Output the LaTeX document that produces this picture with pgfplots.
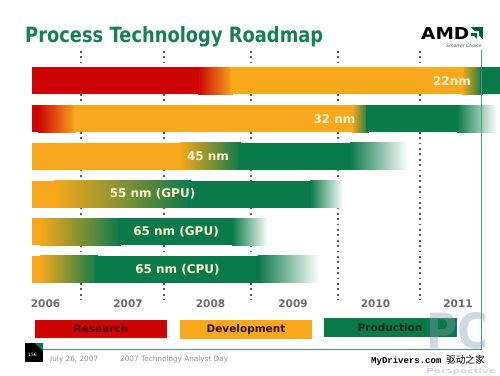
\documentclass[border=0pt]{standalone}
\usepackage{pgfplots}
\pgfplotsset{compat=1.18}
\usepackage{fontspec}
\setmainfont{DejaVu Sans}
\newfontfamily\monofont{Liberation Mono}
\newfontfamily\cjk{Noto Sans CJK SC}
\definecolor{cR}{RGB}{206,4,4}
\definecolor{cO}{RGB}{247,168,28}
\definecolor{cG}{RGB}{10,122,74}
\definecolor{cT}{RGB}{22,128,84}
\definecolor{cTxt}{RGB}{255,244,205}
\definecolor{cFrame}{RGB}{70,155,115}
\definecolor{cWm}{RGB}{130,155,178}
\definecolor{cTick}{RGB}{105,105,105}
% one bar segment: style, x from, x to, y low, y high
\newcommand{\seg}[5]{\addplot[draw=none,#1] coordinates {(#2,#4) (#3,#4) (#3,#5) (#2,#5)} --cycle;}
\begin{document}
\begin{tikzpicture}
\fill[white] (0,0) rectangle (500pt,-375pt);
% title
\node[anchor=base west, inner sep=0, text=cT] at (25pt,-42.7pt) {\resizebox{298pt}{16pt}{\bfseries Process Technology Roadmap}};
% AMD logo
\node[anchor=base west, inner sep=0] at (421pt,-39pt) {\resizebox{48pt}{12pt}{\bfseries AMD}};
\fill[cG!75!black] (470.5pt,-27pt) -- (483pt,-27pt) -- (483pt,-39.5pt) -- (479pt,-35.5pt) -- (479pt,-31pt) -- (474.5pt,-31pt) -- cycle;
\fill[cG!75!black] (471pt,-33pt) -- (477pt,-33pt) -- (477pt,-39pt) -- (474pt,-36pt) -- (471pt,-36pt) -- cycle;
\node[anchor=base east, inner sep=0, font=\itshape\fontsize{4.6}{5}\selectfont, text=black!70] at (482pt,-47pt) {Smarter Choice};
\begin{axis}[
 at={(0pt,-50.8pt)}, anchor=north west,
 scale only axis, width=500pt, height=248.8pt,
 xmin=2005.4485, xmax=2011.509, ymin=-0.8, ymax=5.8, y dir=reverse,
 axis line style={draw=none},
 ytick=\empty,
 xtick={2006,2007,2008,2009,2010,2011},
 xticklabels={2006,2007,2008,2009,2010,2011},
 major tick length=0pt,
 /pgf/number format/assume math mode=true,
 xticklabel style={anchor=center, yshift=-4.5pt, inner sep=0pt, font=\bfseries\fontsize{10.5}{12}\selectfont, text=cTick},
 extra x ticks={2006.43,2007.436,2008.49,2009.545,2010.539},
 extra x tick labels={},
 extra x tick style={grid=major, major grid style={draw=black!65, line width=1.8pt, dash pattern=on 1.8pt off 3.6pt}},
]
% row 0 : 22nm
\seg{fill=cR}{2005.836}{2007.89}{-0.358}{0.358}
\seg{left color=cR,right color=cO}{2007.848}{2008.27}{-0.358}{0.358}
\seg{fill=cO}{2008.24}{2011.09}{-0.358}{0.358}
\seg{left color=cO,right color=cG}{2011.048}{2011.30}{-0.358}{0.358}
\seg{fill=cG}{2011.27}{2011.509}{-0.358}{0.358}
% row 1 : 32 nm
\seg{fill=cR}{2005.836}{2005.95}{0.642}{1.358}
\seg{left color=cR,right color=cO}{2005.909}{2006.368}{0.642}{1.358}
\seg{fill=cO}{2006.34}{2009.755}{0.642}{1.358}
\seg{left color=cO,right color=cG}{2009.715}{2009.919}{0.642}{1.358}
\seg{fill=cG}{2009.89}{2011.03}{0.642}{1.358}
\seg{left color=cG,right color=white}{2010.988}{2011.473}{0.642}{1.358}
% row 2 : 45 nm
\seg{fill=cO}{2005.836}{2007.67}{1.642}{2.358}
\seg{left color=cO,right color=cG}{2007.630}{2008.368}{1.642}{2.358}
\seg{fill=cG}{2008.34}{2009.73}{1.642}{2.358}
\seg{left color=cG,right color=white}{2009.691}{2010.394}{1.642}{2.358}
% row 3 : 55 nm (GPU)
\seg{fill=cO}{2005.836}{2006.155}{2.642}{3.358}
\seg{left color=cO,right color=cG}{2006.115}{2007.762}{2.642}{3.358}
\seg{fill=cG}{2007.73}{2009.246}{2.642}{3.358}
\seg{left color=cG,right color=white}{2009.206}{2009.606}{2.642}{3.358}
% row 4 : 65 nm (GPU)
\seg{fill=cO}{2005.836}{2005.973}{3.642}{4.358}
\seg{left color=cO,right color=cG}{2005.933}{2006.913}{3.642}{4.358}
\seg{fill=cG}{2006.88}{2008.30}{3.642}{4.358}
\seg{left color=cG,right color=white}{2008.261}{2008.697}{3.642}{4.358}
% row 5 : 65 nm (CPU)
\seg{fill=cO}{2005.836}{2005.973}{4.642}{5.358}
\seg{left color=cO,right color=cG}{2005.933}{2006.634}{4.642}{5.358}
\seg{fill=cG}{2006.60}{2008.616}{4.642}{5.358}
\seg{left color=cG,right color=white}{2008.576}{2009.327}{4.642}{5.358}
% bar labels
\begin{scope}[every node/.style={text=cTxt, font=\bfseries\fontsize{12}{14}\selectfont, inner sep=0pt}]
\node at (axis cs:2010.927,0) {22nm};
\node at (axis cs:2009.503,1) {32 nm};
\node at (axis cs:2007.970,2) {45 nm};
\node at (axis cs:2007.297,3) {55 nm (GPU)};
\node at (axis cs:2007.582,4) {65 nm (GPU)};
\node at (axis cs:2007.600,5) {65 nm (CPU)};
\end{scope}
\end{axis}
% frame
\draw[cFrame, line width=0.9pt] (481pt,-50pt) -- (481pt,-349pt) -- (43pt,-349pt);
% legend
\fill[cR] (35pt,-320pt) rectangle (167pt,-338pt);
\fill[cO] (180pt,-320pt) rectangle (312pt,-339pt);
\fill[cG] (324pt,-318pt) rectangle (457pt,-337pt);
\node[font=\bfseries\fontsize{10.5}{12}\selectfont, text={rgb,255:red,85;green,10;blue,10}] at (101pt,-329pt) {Research};
\node[font=\bfseries\fontsize{10.5}{12}\selectfont, text={rgb,255:red,40;green,22;blue,0}] at (246pt,-329.5pt) {Development};
\node[font=\bfseries\fontsize{10.5}{12}\selectfont, text={rgb,255:red,15;green,40;blue,20}] at (390pt,-327.5pt) {Production};
% watermark
\node[opacity=0.38, text=cWm, inner sep=0, anchor=south west] at (426pt,-349pt) {\resizebox{62pt}{36pt}{\bfseries PC}};
\node[opacity=0.38, text=cWm, inner sep=0, anchor=south west] at (426pt,-374.8pt) {\resizebox{70pt}{5.2pt}{\bfseries Perspective}};
% footer
\fill[black] (25pt,-343pt) rectangle (43pt,-362pt);
\fill[cG] (35pt,-343pt) -- (43pt,-343pt) -- (43pt,-351pt) -- cycle;
\node[text=white, inner sep=0, font=\fontsize{4.5}{5}\selectfont] at (32.5pt,-355pt) {156};
\node[anchor=base west, inner sep=0, text=black!45, font=\fontsize{7.3}{8}\selectfont] at (50pt,-361.5pt) {July 26, 2007};
\node[anchor=base west, inner sep=0, text=black!45, font=\fontsize{7.3}{8}\selectfont] at (120pt,-361.5pt) {2007 Technology Analyst Day};
\node[anchor=base west, inner sep=0, font=\monofont\bfseries\fontsize{9}{10}\selectfont] at (371pt,-363pt) {MyDrivers.com};
\node[anchor=base west, inner sep=0, font=\cjk\fontsize{9.6}{11}\selectfont] at (446pt,-363pt) {驱动之家};
\pgfresetboundingbox
\path[use as bounding box] (0,0) rectangle (500pt,-375pt);
\end{tikzpicture}
\end{document}
